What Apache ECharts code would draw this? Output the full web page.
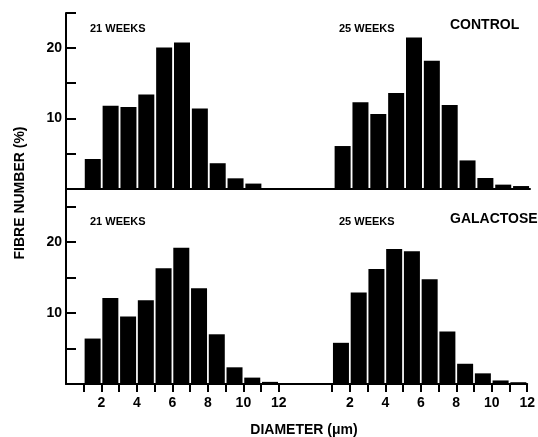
<!DOCTYPE html>
<html>
<head>
<meta charset="utf-8">
<script src="https://cdn.jsdelivr.net/npm/echarts@6/dist/echarts.min.js"></script>
<style>
  html, body { margin: 0; padding: 0; background: #fff; }
  #chart { width: 538px; height: 437px; }
</style>
</head>
<body>
<div id="chart"></div>
<script>
// diameter bins (um), each bar spans [start, start+1]
const binStarts = [1, 2, 3, 4, 5, 6, 7, 8, 9, 10, 11];
const rightOffset = 14; // second group drawn 14 units to the right

const control21 = [4.2, 11.8, 11.6, 13.4, 20.1, 20.8, 11.4, 3.6, 1.45, 0.7];
const control25 = [6.05, 12.3, 10.6, 13.6, 21.5, 18.2, 11.9, 4.0, 1.5, 0.55, 0.35];
const galactose21 = [6.4, 12.1, 9.5, 11.8, 16.3, 19.2, 13.5, 7.0, 2.35, 0.9, 0.3];
const galactose25 = [5.8, 12.9, 16.2, 19.0, 18.7, 14.75, 7.4, 2.85, 1.5, 0.5, 0.25];

const xTickValues = [1, 2, 3, 4, 5, 6, 7, 8, 9, 10, 11, 12, 15, 16, 17, 18, 19, 20, 21, 22, 23, 24, 25, 26];
const xLabelValues = [2, 4, 6, 8, 10, 12, 16, 18, 20, 22, 24, 26];
const yTickValues = [5, 10, 15, 20, 25];
const yLabelValues = [10, 20];

const FONT = 'Liberation Sans';

function toBars(values, offset) {
  return values.map((v, i) => [offset + binStarts[i] + 0.5, v]);
}

// one series per panel so the two week groups are not dodged side by side
function barSeries(left, right, idx) {
  return {
    type: 'bar',
    xAxisIndex: idx,
    yAxisIndex: idx,
    barWidth: 16,
    itemStyle: { color: '#000' },
    silent: true,
    data: toBars(left, 0).concat(toBars(right, rightOffset))
  };
}

function yAxisFor(idx, max) {
  return {
    gridIndex: idx,
    type: 'value',
    min: 0,
    max: max,
    axisLine: { show: true, lineStyle: { color: '#000', width: 2 } },
    axisTick: { show: true, inside: true, length: 10, customValues: yTickValues, lineStyle: { color: '#000', width: 2 } },
    axisLabel: { customValues: yLabelValues, margin: 4, color: '#000', fontSize: 14, fontWeight: 'bold', fontFamily: FONT },
    splitLine: { show: false }
  };
}

const chart = echarts.init(document.getElementById('chart'));
chart.setOption({
  animation: false,
  grid: [
    { left: 66, right: 8, top: 13, height: 175.5 },
    { left: 66, right: 8, top: 188, height: 196 }
  ],
  xAxis: [
    {
      gridIndex: 0, type: 'value', min: 0, max: 26,
      axisLine: { lineStyle: { color: '#000', width: 2 } },
      axisTick: { show: false },
      axisLabel: { show: false },
      splitLine: { show: false }
    },
    {
      gridIndex: 1, type: 'value', min: 0, max: 26,
      axisLine: { lineStyle: { color: '#000', width: 2 } },
      axisTick: { show: true, length: 8, customValues: xTickValues, lineStyle: { color: '#000', width: 2 } },
      axisLabel: {
        customValues: xLabelValues,
        formatter: v => (v > 13 ? v - rightOffset : v),
        margin: 12, color: '#000', fontSize: 14, fontWeight: 'bold', fontFamily: FONT
      },
      splitLine: { show: false }
    }
  ],
  yAxis: [yAxisFor(0, 25), yAxisFor(1, 27.6)],
  series: [
    barSeries(control21, control25, 0),
    barSeries(galactose21, galactose25, 1)
  ],
  graphic: [
    { type: 'text', left: 90, top: 23, style: { text: '21 WEEKS', font: 'bold 11px ' + FONT, fill: '#000' } },
    { type: 'text', left: 339, top: 23, style: { text: '25 WEEKS', font: 'bold 11px ' + FONT, fill: '#000' } },
    { type: 'text', left: 450, top: 18, style: { text: 'CONTROL', font: 'bold 14px ' + FONT, fill: '#000' } },
    { type: 'text', left: 90, top: 216, style: { text: '21 WEEKS', font: 'bold 11px ' + FONT, fill: '#000' } },
    { type: 'text', left: 339, top: 216, style: { text: '25 WEEKS', font: 'bold 11px ' + FONT, fill: '#000' } },
    { type: 'text', left: 450, top: 212, style: { text: 'GALACTOSE', font: 'bold 14px ' + FONT, fill: '#000' } },
    {
      type: 'text', x: 20, y: 193, rotation: Math.PI / 2,
      style: { text: 'FIBRE NUMBER (%)', font: 'bold 14px ' + FONT, fill: '#000', align: 'center', verticalAlign: 'middle' }
    },
    {
      type: 'text', x: 304, y: 430,
      style: { text: 'DIAMETER (μm)', font: 'bold 14px ' + FONT, fill: '#000', align: 'center', verticalAlign: 'middle' }
    }
  ]
});
</script>
</body>
</html>
